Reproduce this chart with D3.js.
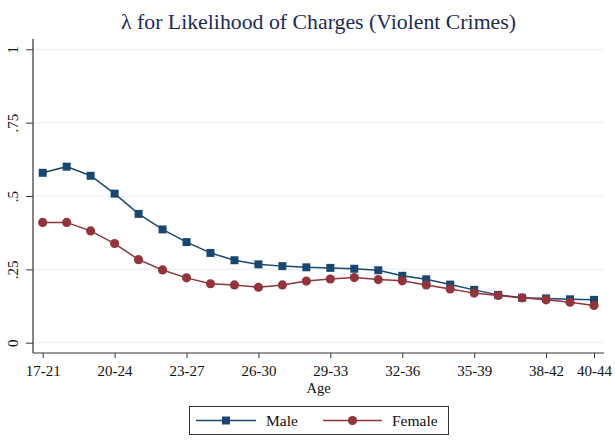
<!DOCTYPE html>
<html>
<head>
<meta charset="utf-8">
<script src="https://cdn.jsdelivr.net/npm/d3@7"></script>
<style>
  html, body { margin: 0; padding: 0; background: #ffffff; }
  svg { display: block; font-family: "Liberation Serif", "Times New Roman", serif; }
</style>
</head>
<body>
<svg id="chart" width="615" height="443"></svg>
<script>
// Age windows (five-year spans), one per observation
const ageGroups = ["17-21","18-22","19-23","20-24","21-25","22-26","23-27","24-28","25-29","26-30",
                   "27-31","28-32","29-33","30-34","31-35","32-36","33-37","34-38","35-39","36-40",
                   "37-41","38-42","39-43","40-44"];

// Estimated lambda by age window
const maleValues   = [0.579,0.600,0.569,0.508,0.439,0.386,0.343,0.306,0.281,0.267,
                      0.261,0.257,0.255,0.252,0.247,0.228,0.216,0.198,0.180,0.163,
                      0.153,0.151,0.148,0.146];
const femaleValues = [0.410,0.410,0.381,0.338,0.283,0.248,0.221,0.201,0.197,0.189,
                      0.197,0.210,0.217,0.222,0.215,0.211,0.197,0.183,0.169,0.161,
                      0.153,0.146,0.138,0.127];

// Labelled ticks
const xTickLabels = ["17-21","20-24","23-27","26-30","29-33","32-36","35-39","38-42","40-44"];
const yTickValues = [0, 0.25, 0.5, 0.75, 1];
const yTickText   = ["0", ".25", ".5", ".75", "1"];

const seriesNames = ["Male", "Female"];
const colors = { Male: "#1a476f", Female: "#90353b" };

const svg = d3.select("#chart");

const x = d3.scalePoint().domain(ageGroups).range([42.7, 594]);
const y = d3.scaleLinear().domain([0, 1]).range([342.7, 49.3]);

const axisX0 = 33, axisX1 = 604, axisY = 353;

// Title
svg.append("text")
  .attr("x", 318.5).attr("y", 29)
  .attr("text-anchor", "middle")
  .attr("font-size", 21.8)
  .attr("fill", "#1c2a57")
  .text("λ for Likelihood of Charges (Violent Crimes)");

// Horizontal grid lines
svg.append("g").selectAll("line")
  .data(yTickValues)
  .join("line")
  .attr("x1", axisX0 + 1).attr("x2", axisX1)
  .attr("y1", d => y(d)).attr("y2", d => y(d))
  .attr("stroke", "#e8f0f1").attr("stroke-width", 1.2);

// Y axis
const yAxis = d3.axisLeft(y).tickValues(yTickValues).tickSize(7)
  .tickFormat((d, i) => yTickText[i]);
const gy = svg.append("g").attr("transform", `translate(${axisX0},0)`).call(yAxis);
gy.select(".domain").remove();
gy.selectAll(".tick line").attr("stroke", "#333").attr("stroke-width", 1);
gy.selectAll(".tick text")
  .attr("font-family", "Liberation Serif, serif")
  .attr("font-size", 15).attr("fill", "#111")
  .attr("x", null).attr("dy", null)
  .attr("text-anchor", "middle")
  .attr("transform", "translate(-15,0) rotate(-90)");
svg.append("line")
  .attr("x1", axisX0).attr("x2", axisX0).attr("y1", 39).attr("y2", axisY)
  .attr("stroke", "#333").attr("stroke-width", 1.2);

// X axis
const xAxis = d3.axisBottom(x).tickValues(xTickLabels).tickSize(5).tickSizeOuter(0);
const gx = svg.append("g").attr("transform", `translate(0,${axisY})`).call(xAxis);
gx.select(".domain").remove();
gx.selectAll(".tick line").attr("stroke", "#333").attr("stroke-width", 1);
gx.selectAll(".tick text")
  .attr("font-family", "Liberation Serif, serif")
  .attr("font-size", 15).attr("fill", "#111")
  .attr("y", 23).attr("dy", null);
svg.append("line")
  .attr("x1", axisX0).attr("x2", axisX1).attr("y1", axisY).attr("y2", axisY)
  .attr("stroke", "#333").attr("stroke-width", 1.2);

// Axis title
svg.append("text")
  .attr("x", 318.5).attr("y", 392.5)
  .attr("text-anchor", "middle")
  .attr("font-size", 14.5).attr("fill", "#111")
  .text("Age");

// Series
const seriesData = {
  Male: ageGroups.map((g, i) => ({ g, v: maleValues[i] })),
  Female: ageGroups.map((g, i) => ({ g, v: femaleValues[i] }))
};
const line = d3.line().x(d => x(d.g)).y(d => y(d.v));

seriesNames.forEach(name => {
  svg.append("path")
    .datum(seriesData[name])
    .attr("d", line)
    .attr("fill", "none")
    .attr("stroke", colors[name])
    .attr("stroke-width", 1.5);
});

const square = d3.symbol().type(d3.symbolSquare).size(64);
const circle = d3.symbol().type(d3.symbolCircle).size(66);

svg.append("g").selectAll("path")
  .data(seriesData.Male)
  .join("path")
  .attr("d", square)
  .attr("transform", d => `translate(${x(d.g)},${y(d.v)})`)
  .attr("fill", colors.Male);

svg.append("g").selectAll("path")
  .data(seriesData.Female)
  .join("path")
  .attr("d", circle)
  .attr("transform", d => `translate(${x(d.g)},${y(d.v)})`)
  .attr("fill", colors.Female);

// Legend
const legend = svg.append("g");
legend.append("rect")
  .attr("x", 189.5).attr("y", 406.5).attr("width", 259).attr("height", 28)
  .attr("fill", "#fff").attr("stroke", "#333").attr("stroke-width", 1);

const legendItems = [
  { name: "Male", x0: 196, x1: 256, tx: 266, sym: square },
  { name: "Female", x0: 323, x1: 382, tx: 392, sym: circle }
];
const ly = 420.5;
legendItems.forEach(it => {
  legend.append("line")
    .attr("x1", it.x0).attr("x2", it.x1).attr("y1", ly).attr("y2", ly)
    .attr("stroke", colors[it.name]).attr("stroke-width", 1.5);
  legend.append("path")
    .attr("d", it.sym)
    .attr("transform", `translate(${(it.x0 + it.x1) / 2},${ly})`)
    .attr("fill", colors[it.name]);
  legend.append("text")
    .attr("x", it.tx).attr("y", ly + 5.5)
    .attr("font-size", 15.5).attr("fill", "#111")
    .text(it.name);
});
</script>
</body>
</html>
